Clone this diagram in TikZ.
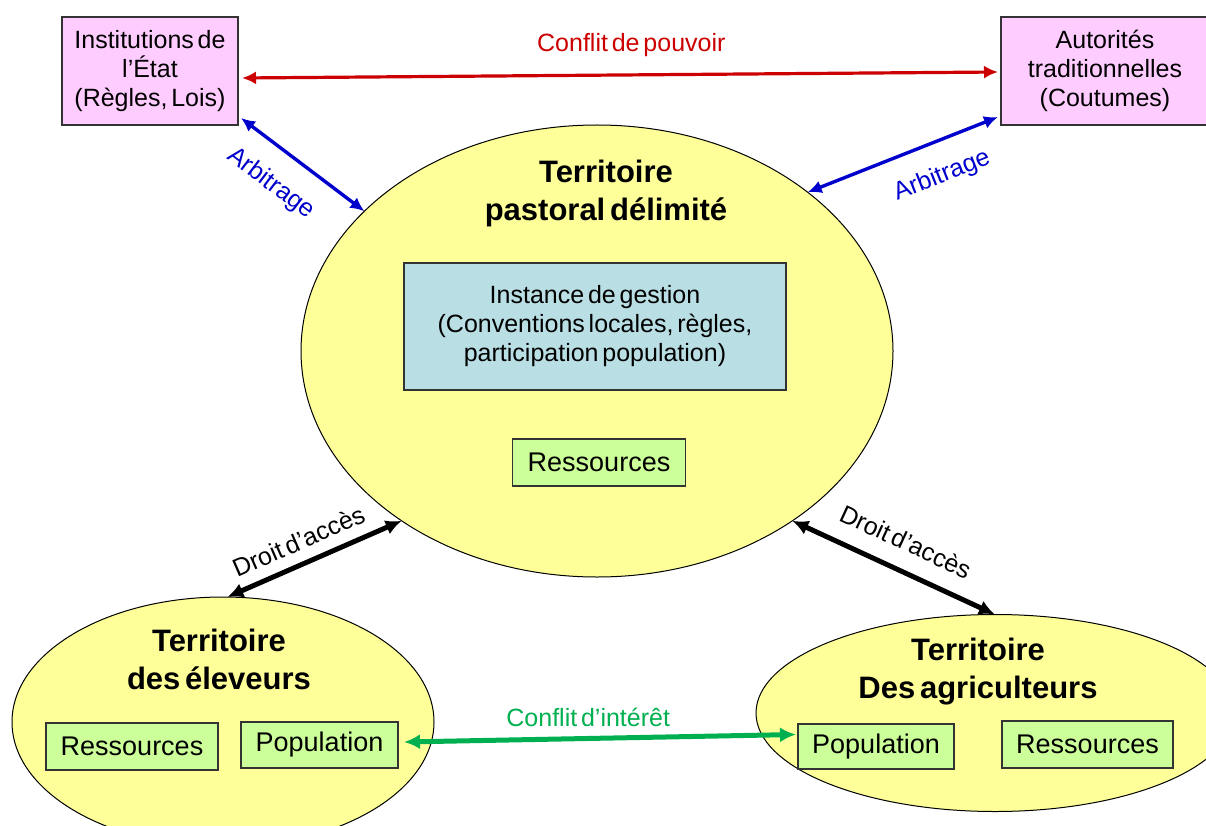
\documentclass[tikz,border=0pt]{standalone}
\usepackage{fontspec}
\setmainfont{Liberation Sans}[WordSpace=0.55]
\usetikzlibrary{arrows.meta,shapes.geometric}

\definecolor{rose}{HTML}{FFCCFF}
\definecolor{jaune}{HTML}{FFFF99}
\definecolor{turquoise}{HTML}{B9DFE4}
\definecolor{vertclair}{HTML}{CCFF99}
\definecolor{rouge}{HTML}{CC0000}
\definecolor{bleu}{HTML}{0000CC}
\definecolor{vert}{HTML}{00B050}

\begin{document}
\begin{tikzpicture}[x=1pt, y=-1pt,
    zone/.style={ellipse, draw=black, line width=1pt, fill=jaune, inner sep=0pt, outer sep=0pt},
    boite/.style={draw=black!80, line width=1.2pt, inner sep=0pt, outer sep=0pt, align=center,
                  font=\fontsize{25}{29}\selectfont},
    ressource/.style={boite, fill=vertclair, font=\fontsize{27}{32}\selectfont},
    titre/.style={align=center, font=\fontsize{31}{38}\selectfont\bfseries},
    etiq/.style={inner sep=1pt, font=\fontsize{25}{30}\selectfont},
    lien/.style={line width=3.4pt, {Latex[length=14pt,width=13pt]}-{Latex[length=14pt,width=13pt]}},
    acces/.style={line width=5pt, black, {Latex[length=16pt,width=15pt]}-{Latex[length=16pt,width=15pt]}}]
    \useasboundingbox[fill=white] (0,0) rectangle (1206,826);
    \clip (0,0) rectangle (1206,826);

    % Territoires
    \node[zone, minimum width=592pt, minimum height=452pt] (pastoral) at (597,351) {};
    \node[zone, minimum width=422pt, minimum height=250pt] (eleveurs) at (223,722) {};
    \node[zone, minimum width=478pt, minimum height=197pt] (agri) at (995,713) {};

    \node[titre] (tPast) at (606,193) {Territoire\\pastoral délimité};
    \node[titre] (tElev) at (219,659) {Territoire\\des éleveurs};
    \node[titre] (tAgri) at (978,672) {Territoire\\Des agriculteurs};

    % Acteurs
    \node[boite, fill=rose, minimum width=176pt, minimum height=108pt] (etat) at (150,71)
        {Institutions de\\l’État\\(Règles, Lois)};
    \node[boite, fill=rose, minimum width=208pt, minimum height=108pt] (autorites) at (1105,71)
        {Autorités\\traditionnelles\\(Coutumes)};
    \node[boite, fill=turquoise, minimum width=382pt, minimum height=127pt] (instance) at (595,326.5)
        {Instance de gestion\\(Conventions locales, règles,\\participation population)};

    % Ressources et populations
    \node[ressource, minimum width=173pt, minimum height=47pt] (resPast) at (599,462.5) {Ressources};
    \node[ressource, minimum width=172pt, minimum height=47pt] (resElev) at (132,746.5) {Ressources};
    \node[ressource, minimum width=157pt, minimum height=46pt] (popElev) at (319.5,745) {Population};
    \node[ressource, minimum width=156pt, minimum height=45pt] (popAgri) at (876,746.5) {Population};
    \node[ressource, minimum width=171pt, minimum height=47pt] (resAgri) at (1087.5,744.5) {Ressources};

    % Conflits
    \draw[lien, rouge, line width=3.2pt] ([xshift=4pt,yshift=-7pt]etat.east) -- ([xshift=-3pt,yshift=-1pt]autorites.west)
        node[etiq, pos=0.515, above=16pt] {Conflit de pouvoir};
    \draw[acces, vert] ([xshift=6pt,yshift=3pt]popElev.east) -- ([xshift=-2pt,yshift=12pt]popAgri.west)
        node[etiq, pos=0.47, above=8pt] {Conflit d’intérêt};

    % Arbitrage
    \draw[lien, bleu] ([xshift=3pt,yshift=7pt]etat.south east) -- (pastoral.149)
        node[etiq, pos=0.41, below=20pt, sloped] {Arbitrage};
    \draw[lien, bleu] ([xshift=-3pt,yshift=8pt]autorites.south west) -- (pastoral.37)
        node[etiq, pos=0.36, below=20pt, sloped] {Arbitrage};

    % Droits d'acces
    \draw[acces] (eleveurs.88) -- (pastoral.221)
        node[etiq, pos=0.46, above=10pt, sloped] {Droit d’accès};
    \draw[acces] (pastoral.319) -- (agri.north)
        node[etiq, pos=0.5, above=16pt, sloped] {Droit d’accès};
\end{tikzpicture}
\end{document}
